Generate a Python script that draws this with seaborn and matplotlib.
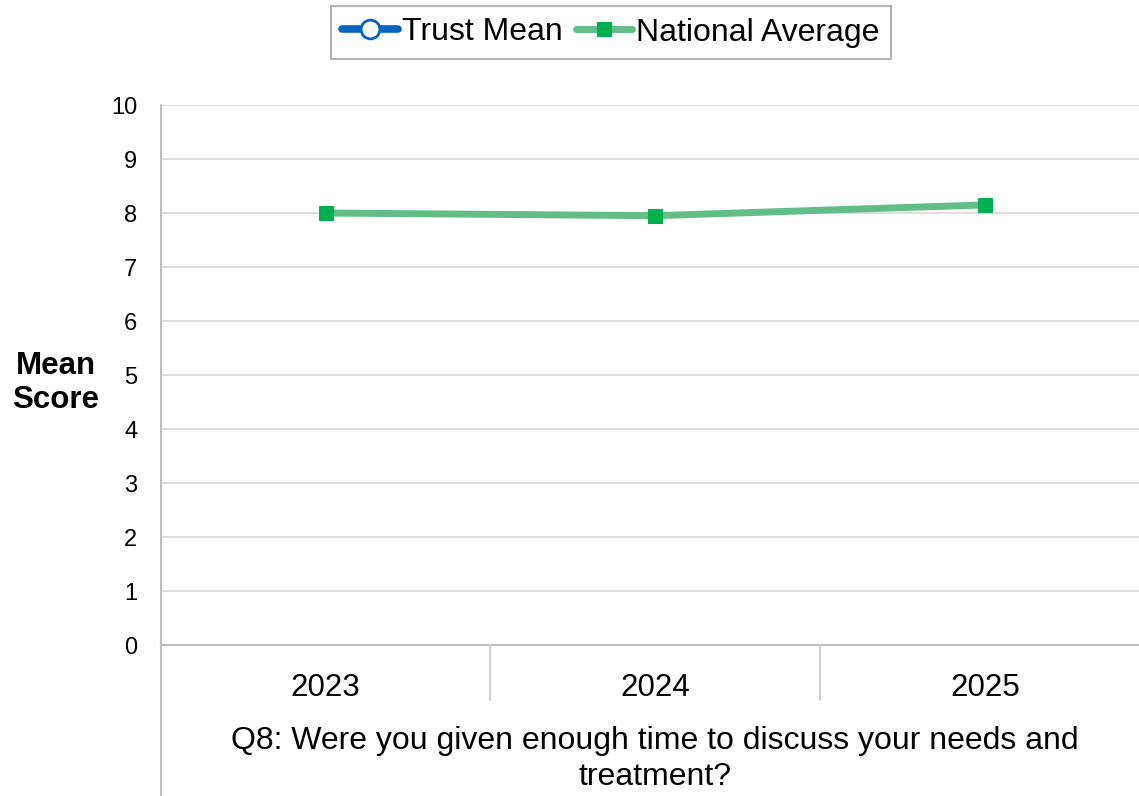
import numpy as np
import pandas as pd
import matplotlib
matplotlib.use("Agg")
import matplotlib.pyplot as plt
from matplotlib.lines import Line2D
import seaborn as sns

# Survey results
years = ["2023", "2024", "2025"]
trust_mean = [np.nan, np.nan, np.nan]
national_average = [8.00, 7.95, 8.15]
question = "Q8: Were you given enough time to discuss your needs and\ntreatment?"

sns.set_theme(style="white")
plt.rcParams["font.family"] = ["Liberation Sans", "DejaVu Sans"]
plt.rcParams["text.color"] = "black"

W, H = 1139, 796
fig = plt.figure(figsize=(W / 100, H / 100), dpi=100)
left, right, top, bottom = 161 / W, 1149.5 / W, 1 - 105 / H, 1 - 645 / H
ax = fig.add_axes([left, bottom, right - left, top - bottom])

df = pd.DataFrame({"pos": np.arange(len(years)), "year": years,
                   "trust": trust_mean, "national": national_average})

blue = "#0563C1"
green_line = "#62BE86"
green_marker = "#00B050"

# Trust Mean series (no values available)
ax.plot(df["pos"], df["trust"], color=blue, lw=5.5, marker="o", ms=13.5,
        mfc="white", mec=blue, mew=2, label="Trust Mean")

sns.lineplot(data=df, x="pos", y="national", ax=ax, color=green_line, lw=5,
             marker="s", markersize=10, markerfacecolor=green_marker,
             markeredgecolor=green_marker, label="National Average")

ax.set_xlim(-0.5, len(years) - 0.5)
ax.set_ylim(0, 10)
ax.set_yticks(range(0, 11))
ax.set_xticks(df["pos"])
ax.set_xticklabels(years)
ax.set_xlabel("")
ax.set_ylabel("")
ax.tick_params(axis="y", length=0, pad=17, labelsize=17, labelcolor="black")
ax.tick_params(axis="x", length=0, pad=20, labelsize=22.5, labelcolor="black")
ax.grid(axis="y", color="#D9D9D9", lw=1.2)
ax.grid(axis="x", visible=False)
for s in ["top", "right"]:
    ax.spines[s].set_visible(False)
ax.spines["bottom"].set_color("#BFBFBF")
ax.spines["bottom"].set_linewidth(1.5)
ax.spines["left"].set_visible(False)

# Left axis line running through the category label area
fig.add_artist(Line2D([left, left], [0, top], transform=fig.transFigure,
                      color="#BFBFBF", lw=1.5))
# Category separators below the axis
for xb in [0.5, 1.5]:
    xf = left + (xb + 0.5) / len(years) * (right - left)
    fig.add_artist(Line2D([xf, xf], [1 - 700 / H, bottom], transform=fig.transFigure,
                          color="#D0D0D0", lw=1.5))

fig.text(56 / W, 1 - 383 / H, "Mean\nScore", ha="center", va="center",
         fontsize=22.5, fontweight="bold", linespacing=1.15, color="black")
fig.text(655 / W, 1 - 759 / H, question, ha="center", va="center",
         fontsize=23, linespacing=1.25, color="black")

ax.get_legend().remove()
handles, labels = ax.get_legend_handles_labels()
leg = fig.legend(handles, labels, loc="center", bbox_to_anchor=(611 / W, 1 - 32.5 / H),
                 ncol=2, fontsize=23, frameon=True, fancybox=False,
                 handlelength=1.75, handletextpad=0.13, columnspacing=0.42,
                 borderpad=0.35, borderaxespad=0)
for t in leg.get_texts():
    t.set_color("black")
leg.get_frame().set_edgecolor("#A0A0A0")
leg.get_frame().set_linewidth(1.5)

fig.savefig("out.png", dpi=100)
